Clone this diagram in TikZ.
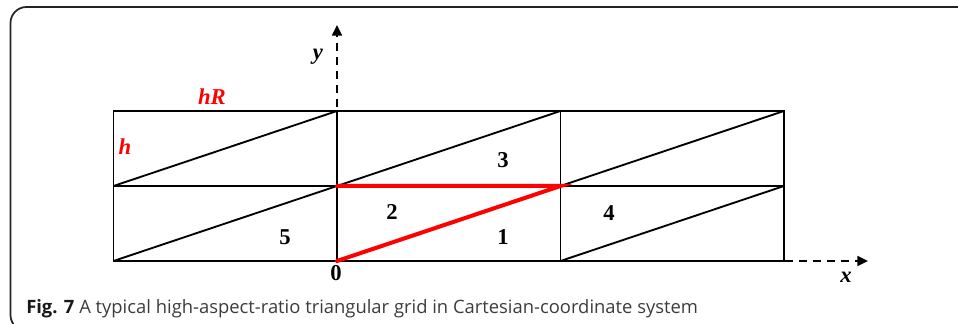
\documentclass[tikz,border=0pt]{standalone}
\usepackage{fontspec}
\setmainfont{Liberation Serif}
\newfontfamily\capfont{Open Sans}
\usetikzlibrary{arrows.meta, positioning, calc}
\definecolor{cRed}{RGB}{255,0,0}
\definecolor{cFrame}{RGB}{35,35,35}
\definecolor{cCap}{RGB}{60,60,60}
\newcommand{\cellW}{223.5}
\newcommand{\cellH}{75}

\begin{document}
\begin{tikzpicture}[
  x=0.75pt, y=0.75pt,
  >={Triangle[length=8pt, width=7.5pt]},
  grid/.style={line width=1.4pt},
  hl/.style={cRed, line width=3pt},
  axis/.style={->, dash pattern=on 6pt off 4.5pt, line width=1.2pt},
  num/.style={font=\fontsize{17}{17}\selectfont\bfseries, inner sep=0pt},
  var/.style={font=\fontsize{17}{17}\selectfont\bfseries\itshape, inner sep=0pt}
]
\useasboundingbox (-337,-63) rectangle (621,261);

%% ── FRAME ────────────────────────────────────────────────────────────────────

\draw[cFrame, line width=1.3pt, rounded corners=12] (-326.5,-70) rectangle (660,254);

%% ── GRID ─────────────────────────────────────────────────────────────────────

\coordinate (orig) at (0,0);
\coordinate (midL) at (0,\cellH);
\coordinate (midR) at (\cellW,\cellH);
\coordinate (xend) at (531,0);
\coordinate (yend) at (0,236);

\draw[axis] (orig) -- (xend);
\draw[axis] (orig) -- (yend);

\foreach \i in {-1,0,1}
  \foreach \j in {0,1} {
    \draw[grid] (\i*\cellW,\j*\cellH) rectangle ++(\cellW,\cellH);
    \draw[grid] (\i*\cellW,\j*\cellH) -- ++(\cellW,\cellH);
  }

\draw[hl, line cap=round] (orig) -- (midR) -- (midL);

%% ── LABELS ───────────────────────────────────────────────────────────────────

\node[var] (lx)  at (509,-16) {x};
\node[var] (ly)  at (-19,204) {y};
\node[var, cRed] (lhR) at (-125,164) {hR};
\node[var, cRed] (lh)  at (-212,114) {h};

\node[num] (n0) at (-1,-12) {0};
\node[num] (n1) at (166,24)  {1};
\node[num] (n2) at (55,49)   {2};
\node[num] (n3) at (166,101) {3};
\node[num] (n4) at (272,48)  {4};
\node[num] (n5) at (-52,24)  {5};

%% ── CAPTION ──────────────────────────────────────────────────────────────────

\node[anchor=base west, inner sep=0pt, text=cCap,
      font=\capfont\fontsize{13.8}{13.8}\selectfont] (cap) at (-311,-53)
  {{\bfseries\color{black!90}Fig. 7} A typical high-aspect-ratio triangular grid in Cartesian-coordinate system};

\end{tikzpicture}
\end{document}
